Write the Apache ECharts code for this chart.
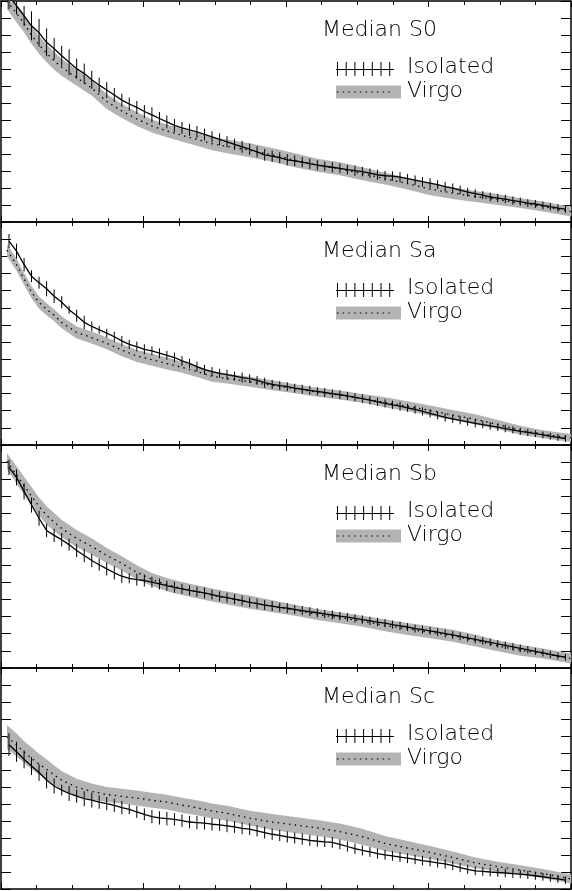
<!DOCTYPE html>
<html><head><meta charset="utf-8">
<script src="https://cdn.jsdelivr.net/npm/echarts@6/dist/echarts.min.js"></script>
<style>html,body{margin:0;padding:0;background:#fff}#c{width:572px;height:891px}</style>
</head><body><div id="c"></div>
<script>
// x positions (radius units, major tick = 1) of the Isolated points
const xIso = [0.056,0.109,0.162,0.214,0.267,0.320,0.373,0.426,0.478,0.531,
0.584,0.637,0.689,0.742,0.795,0.848,0.900,0.953,1.006,1.059,
1.112,1.164,1.217,1.270,1.323,1.375,1.428,1.481,1.534,1.586,
1.639,1.692,1.745,1.797,1.850,1.903,1.956,2.009,2.061,2.114,
2.167,2.220,2.272,2.325,2.378,2.431,2.484,2.536,2.589,2.642,
2.695,2.747,2.800,2.853,2.906,2.958,3.011,3.064,3.117,3.170,
3.222,3.275,3.328,3.381,3.433,3.486,3.539,3.592,3.644,3.697,
3.750,3.803,3.855,3.908,3.961];
// x positions of the Virgo median / band vertices
const xVirgo = [0.042,0.109,0.161,0.215,0.267,0.320,0.373,0.425,0.531,0.636,0.742,0.848,0.953,1.059,1.164,1.270,1.375,1.481,1.587,1.745,1.903,2.062,2.220,2.378,2.536,2.695,2.853,3.011,3.170,3.328,3.486,3.645,3.803,4.000];

const panelNames = ['Median S0','Median Sa','Median Sb','Median Sc'];
const legendNames = ['Isolated','Virgo'];

// y values in tick units, counted downward from the top of each panel
const isoS0 = [-0.32,0.28,0.88,1.46,1.87,2.43,2.81,3.22,3.60,3.98,
4.27,4.63,4.95,5.24,5.53,5.83,6.06,6.26,6.50,6.70,
6.91,7.11,7.32,7.46,7.58,7.70,7.85,7.99,8.14,8.28,
8.43,8.58,8.72,8.87,9.05,9.13,9.22,9.34,9.40,9.48,
9.57,9.66,9.72,9.78,9.84,9.92,9.98,10.04,10.13,10.22,
10.28,10.30,10.36,10.45,10.54,10.63,10.71,10.80,10.92,11.01,
11.12,11.24,11.33,11.42,11.53,11.59,11.65,11.74,11.80,11.89,
11.94,12.03,12.09,12.18,12.24];
const errS0 = [0.80,0.50,0.59,0.85,0.82,0.82,0.64,0.59,0.76,0.59,
0.59,0.53,0.44,0.47,0.41,0.38,0.38,0.38,0.38,0.44,
0.38,0.38,0.38,0.35,0.35,0.35,0.35,0.33,0.35,0.33,
0.33,0.35,0.33,0.33,0.35,0.33,0.32,0.33,0.32,0.30,
0.30,0.30,0.28,0.30,0.28,0.28,0.30,0.28,0.28,0.30,
0.28,0.28,0.30,0.28,0.28,0.28,0.28,0.26,0.28,0.28,
0.26,0.26,0.26,0.24,0.26,0.24,0.24,0.24,0.24,0.23,
0.23,0.23,0.22,0.22,0.22];
const virgoS0 = [0.00,0.73,1.29,2.02,2.58,3.07,3.51,3.89,4.51,5.12,5.91,6.47,6.94,7.35,7.64,7.90,8.14,8.40,8.55,8.78,9.05,9.37,9.66,9.87,10.16,10.45,10.74,11.07,11.30,11.50,11.68,11.89,12.09,12.39];
const bandS0 = [0.47,0.53,0.53,0.53,0.53,0.53,0.53,0.50,0.47,0.44,0.44,0.41,0.41,0.38,0.38,0.38,0.38,0.38,0.41,0.41,0.41,0.41,0.38,0.38,0.38,0.35,0.35,0.35,0.35,0.32,0.32,0.29,0.29,0.28];

const isoSa = [1.11,1.70,2.49,3.16,3.54,3.89,4.33,4.68,5.11,5.46,
5.85,6.09,6.28,6.48,6.69,6.93,7.13,7.26,7.42,7.51,
7.65,7.77,7.90,8.10,8.24,8.43,8.61,8.72,8.82,8.90,
8.98,9.07,9.13,9.23,9.37,9.47,9.54,9.60,9.69,9.75,
9.81,9.87,9.94,10.01,10.07,10.14,10.22,10.30,10.39,10.48,
10.57,10.66,10.74,10.83,10.93,11.04,11.15,11.27,11.39,11.48,
11.56,11.65,11.74,11.81,11.89,11.96,12.04,12.12,12.20,12.27,
12.34,12.41,12.49,12.56,12.62];
const errSa = [0.41,0.44,0.39,0.35,0.35,0.44,0.39,0.35,0.23,0.35,
0.39,0.29,0.23,0.26,0.29,0.29,0.26,0.29,0.29,0.26,
0.29,0.26,0.29,0.29,0.26,0.29,0.29,0.26,0.26,0.29,
0.26,0.29,0.26,0.26,0.29,0.26,0.26,0.26,0.26,0.26,
0.26,0.24,0.26,0.24,0.26,0.24,0.24,0.26,0.24,0.24,
0.24,0.24,0.26,0.24,0.24,0.24,0.24,0.23,0.24,0.23,
0.23,0.23,0.23,0.22,0.22,0.22,0.22,0.21,0.21,0.21,
0.20,0.20,0.20,0.20,0.20];
const virgoSa = [1.64,2.49,3.31,4.10,4.70,5.08,5.44,5.85,6.44,6.74,7.07,7.47,7.81,8.03,8.25,8.47,8.72,8.99,9.13,9.31,9.52,9.72,9.92,10.09,10.28,10.51,10.74,10.99,11.25,11.50,11.80,12.14,12.37,12.59];
const bandSa = [0.35,0.35,0.35,0.35,0.35,0.35,0.35,0.35,0.35,0.35,0.35,0.35,0.35,0.35,0.35,0.32,0.32,0.32,0.29,0.29,0.29,0.26,0.26,0.26,0.26,0.29,0.29,0.29,0.29,0.29,0.26,0.26,0.23,0.23];

const isoSb = [1.31,1.89,2.70,3.50,4.27,4.98,5.27,5.52,5.81,6.15,
6.44,6.73,6.98,7.22,7.45,7.65,7.77,7.85,7.90,8.00,
8.10,8.20,8.30,8.39,8.47,8.55,8.62,8.72,8.82,8.90,
8.98,9.07,9.17,9.25,9.33,9.39,9.46,9.51,9.59,9.65,
9.72,9.78,9.85,9.91,9.98,10.04,10.11,10.18,10.25,10.32,
10.39,10.47,10.54,10.61,10.70,10.76,10.83,10.91,10.99,11.07,
11.15,11.24,11.33,11.42,11.50,11.59,11.68,11.77,11.86,11.94,
12.03,12.12,12.21,12.30,12.37];
const errSb = [0.44,0.47,0.47,0.44,0.44,0.39,0.39,0.39,0.35,0.39,
0.39,0.39,0.35,0.39,0.39,0.39,0.29,0.35,0.35,0.32,
0.32,0.29,0.32,0.29,0.29,0.29,0.32,0.29,0.29,0.29,
0.29,0.29,0.29,0.29,0.29,0.29,0.26,0.29,0.26,0.26,
0.26,0.26,0.24,0.26,0.24,0.24,0.24,0.24,0.24,0.24,
0.24,0.23,0.24,0.23,0.23,0.23,0.23,0.23,0.23,0.23,
0.23,0.23,0.23,0.22,0.22,0.22,0.22,0.22,0.22,0.21,
0.21,0.21,0.21,0.20,0.20];
const virgoSb = [0.95,1.74,2.36,2.99,3.59,4.10,4.49,4.86,5.45,5.91,6.44,6.90,7.42,7.84,8.14,8.37,8.56,8.75,8.92,9.16,9.40,9.63,9.88,10.07,10.27,10.51,10.73,10.92,11.12,11.39,11.71,11.97,12.15,12.45];
const bandSb = [0.47,0.50,0.53,0.53,0.53,0.53,0.53,0.50,0.50,0.47,0.44,0.41,0.41,0.38,0.38,0.38,0.38,0.38,0.38,0.38,0.35,0.32,0.32,0.32,0.32,0.35,0.35,0.35,0.35,0.35,0.32,0.32,0.29,0.29];

const isoSc = [4.51,4.93,5.37,5.77,6.15,6.59,6.94,7.18,7.38,7.54,
7.69,7.77,7.89,7.98,8.08,8.21,8.31,8.47,8.61,8.74,
8.82,8.86,8.90,8.98,9.06,9.09,9.13,9.19,9.23,9.29,
9.35,9.43,9.48,9.58,9.68,9.78,9.85,9.94,10.00,10.06,
10.14,10.19,10.23,10.26,10.37,10.50,10.63,10.73,10.82,10.92,
10.99,11.05,11.12,11.19,11.26,11.33,11.39,11.46,11.52,11.62,
11.74,11.84,11.93,11.96,12.00,12.03,12.06,12.10,12.13,12.17,
12.22,12.28,12.35,12.41,12.48];
const errSc = [0.67,0.59,0.53,0.53,0.49,0.49,0.44,0.32,0.44,0.39,
0.44,0.44,0.39,0.39,0.39,0.39,0.29,0.35,0.35,0.39,
0.39,0.39,0.37,0.37,0.37,0.39,0.37,0.37,0.35,0.37,
0.35,0.35,0.35,0.33,0.35,0.33,0.33,0.33,0.32,0.33,
0.32,0.32,0.30,0.32,0.30,0.30,0.30,0.30,0.29,0.30,
0.29,0.29,0.29,0.29,0.28,0.28,0.28,0.28,0.28,0.27,
0.27,0.27,0.26,0.26,0.26,0.25,0.25,0.25,0.24,0.24,
0.24,0.23,0.23,0.23,0.22];
const virgoSc = [4.05,4.53,4.94,5.32,5.65,5.96,6.29,6.59,7.01,7.26,7.44,7.55,7.65,7.78,7.89,8.07,8.22,8.41,8.55,8.83,9.06,9.23,9.41,9.62,9.92,10.32,10.59,10.85,11.15,11.46,11.68,11.89,12.09,12.41];
const bandSc = [0.70,0.67,0.64,0.64,0.61,0.59,0.56,0.53,0.50,0.47,0.44,0.44,0.44,0.44,0.44,0.44,0.44,0.44,0.44,0.44,0.47,0.47,0.47,0.47,0.47,0.44,0.41,0.38,0.35,0.32,0.29,0.29,0.26,0.26];

const panels = [
  {name: panelNames[0], iso: isoS0, err: errS0, virgo: virgoS0, band: bandS0},
  {name: panelNames[1], iso: isoSa, err: errSa, virgo: virgoSa, band: bandSa},
  {name: panelNames[2], iso: isoSb, err: errSb, virgo: virgoSb, band: bandSb},
  {name: panelNames[3], iso: isoSc, err: errSc, virgo: virgoSc, band: bandSc}
];

// layout
const TOPS = [1, 222, 445, 668];
const HEIGHTS = [221, 223, 223, 221];
const BAND_COLOR = '#b3b3b3';
const FONT = {fontFamily: 'DejaVu Sans', fontSize: 22, fontWeight: 200, fill: '#000'};

const chart = echarts.init(document.getElementById('c'), null, {renderer: 'canvas'});

const grids = [], xAxes = [], yAxes = [], series = [], graphics = [];
panels.forEach((p, k) => {
  grids.push({left: 1, right: 1, top: TOPS[k], height: HEIGHTS[k], containLabel: false});
  const xa = (pos) => ({
    type: 'value', gridIndex: k, position: pos, min: 0, max: 4, interval: 1,
    axisLine: {show: true, onZero: false, lineStyle: {color: '#000', width: 1.5}},
    axisTick: {show: true, inside: true, length: 6, lineStyle: {color: '#000', width: 1}},
    minorTick: {show: true, splitNumber: 4, length: 4, lineStyle: {color: '#000', width: 1}},
    axisLabel: {show: false}, splitLine: {show: false}, minorSplitLine: {show: false}
  });
  xAxes.push(xa('bottom'), xa('top'));
  const ya = (pos) => ({
    type: 'value', gridIndex: k, position: pos, min: 0, max: 13, interval: 1, inverse: true,
    axisLine: {show: true, onZero: false, lineStyle: {color: '#000', width: 1.5}},
    axisTick: {show: true, inside: true, length: 10, lineStyle: {color: '#000', width: 1}},
    axisLabel: {show: false}, splitLine: {show: false}
  });
  yAxes.push(ya('left'), ya('right'));

  const xi = 2 * k, yi = 2 * k;
  const bandData = xVirgo.map((x, j) => [x, p.virgo[j] - p.band[j], p.virgo[j] + p.band[j]]);
  series.push({
    type: 'custom', xAxisIndex: xi, yAxisIndex: yi, clip: true, silent: true,
    data: bandData, encode: {x: 0, y: 1},
    renderItem: function (params, api) {
      if (params.dataIndex !== 0) return null;
      const pts = [];
      bandData.forEach(d => pts.push(api.coord([d[0], d[1]])));
      for (let j = bandData.length - 1; j >= 0; j--) pts.push(api.coord([bandData[j][0], bandData[j][2]]));
      return {type: 'polygon', shape: {points: pts}, style: {fill: BAND_COLOR}};
    },
    z: 1
  });
  series.push({
    type: 'line', xAxisIndex: xi, yAxisIndex: yi, name: legendNames[1],
    data: xVirgo.map((x, j) => [x, p.virgo[j]]),
    symbol: 'none', smooth: false, silent: true,
    lineStyle: {color: '#000', width: 1.3, type: [1.5, 4.2]}, z: 2
  });
  series.push({
    type: 'custom', xAxisIndex: xi, yAxisIndex: yi, clip: true, silent: true,
    data: xIso.map((x, j) => [x, p.iso[j], p.err[j]]), encode: {x: 0, y: 1},
    renderItem: function (params, api) {
      const x = api.value(0), y = api.value(1), e = api.value(2);
      const a = api.coord([x, y - e]), b = api.coord([x, y + e]);
      return {type: 'line', shape: {x1: a[0], y1: a[1], x2: b[0], y2: b[1]}, style: {stroke: '#000', lineWidth: 1}};
    },
    z: 3
  });
  series.push({
    type: 'line', xAxisIndex: xi, yAxisIndex: yi, name: legendNames[0],
    data: xIso.map((x, j) => [x, p.iso[j]]),
    symbol: 'none', smooth: false, silent: true,
    lineStyle: {color: '#000', width: 1.3}, z: 4
  });

  // panel title and legend
  const T = TOPS[k] - 1;
  graphics.push({type: 'text', left: 322, top: T + 19, style: Object.assign({text: p.name}, FONT)});
  const ticks = [];
  for (let j = 0; j < 7; j++) {
    ticks.push({type: 'line', shape: {x1: 337.5 + 8.7 * j, y1: T + 62, x2: 337.5 + 8.7 * j, y2: T + 76}, style: {stroke: '#000', lineWidth: 1}});
  }
  graphics.push({type: 'group', children: [
    {type: 'line', shape: {x1: 336, y1: T + 69.5, x2: 394, y2: T + 69.5}, style: {stroke: '#000', lineWidth: 1.2}}
  ].concat(ticks)});
  graphics.push({type: 'text', left: 407, top: T + 56.5, style: Object.assign({text: legendNames[0]}, FONT)});
  graphics.push({type: 'rect', shape: {x: 336, y: T + 85.5, width: 65, height: 13}, style: {fill: BAND_COLOR}});
  graphics.push({type: 'line', shape: {x1: 337, y1: T + 92, x2: 392, y2: T + 92}, style: {stroke: '#000', lineWidth: 1.2, lineDash: [1.5, 4.2]}});
  graphics.push({type: 'text', left: 407, top: T + 80.5, style: Object.assign({text: legendNames[1]}, FONT)});
});

chart.setOption({
  animation: false,
  backgroundColor: '#fff',
  grid: grids, xAxis: xAxes, yAxis: yAxes, series: series, graphic: graphics
});
</script></body></html>
